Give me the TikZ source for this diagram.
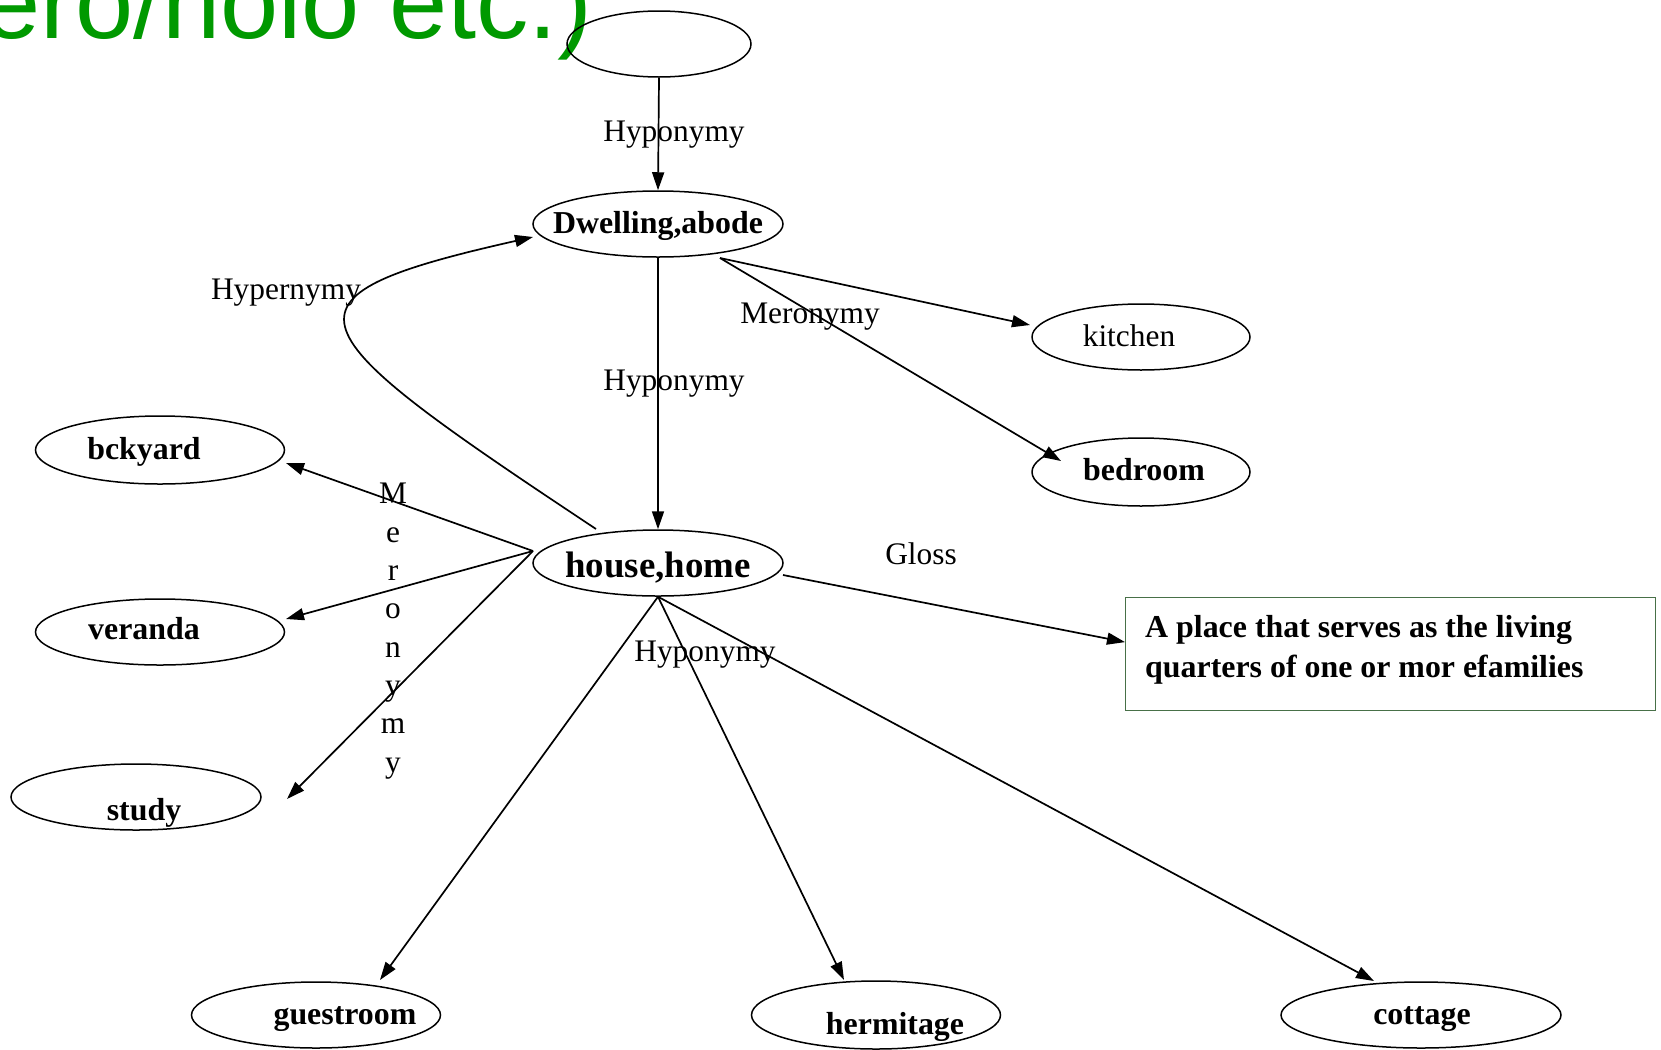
\documentclass[tikz,border=0pt]{standalone}
\usepackage{fontspec}
\setmainfont{Liberation Serif}
\newfontfamily\headfont{Liberation Sans}
\usetikzlibrary{shapes.geometric,arrows.meta,calc}
\definecolor{headgreen}{RGB}{0,153,0}
\definecolor{boxgreen}{RGB}{72,112,72}
\tikzset{
  syn/.style={draw, ellipse, line width=1.5bp, inner sep=0pt},
  rel/.style={line width=1.7bp, -{Triangle[length=18bp,width=12bp]}},
  lbl/.style={inner sep=0pt, font=\fontsize{31.5}{38.5}\selectfont},
  word/.style={inner sep=0pt, font=\fontsize{32}{39}\selectfont\bfseries},
}

\begin{document}
\begin{tikzpicture}[x=1bp,y=-1bp]
\useasboundingbox (0,0) rectangle (1661,1049);

% heading, cut off at the top
\begin{scope}
\clip (0,0) rectangle (1661,1049);
\node [anchor=base west, inner sep=0pt, text=headgreen, font=\fontsize{105}{120}\selectfont\headfont] (head) at (-18,38) {ero/holo etc.)};
\end{scope}

% synsets
\node [syn, minimum width=184bp, minimum height=66bp] (top) at (659,44) {};
\node [syn, minimum width=250bp, minimum height=66bp, label={[word, shift={(0,2)}]center:{Dwelling,abode}}] (dwell) at (658,224) {};
\node [syn, minimum width=218bp, minimum height=66bp, label={[lbl, shift={(-12,-1)}]center:kitchen}] (kitchen) at (1141,337) {};
\node [syn, minimum width=218bp, minimum height=68bp, label={[word, shift={(3,-2)}]center:bedroom}] (bedroom) at (1141,472) {};
\node [syn, minimum width=250bp, minimum height=66bp, label={[word, font=\fontsize{37}{44}\selectfont\bfseries, shift={(0,5)}]center:{house,home}}] (house) at (658,563) {};
\node [syn, minimum width=249bp, minimum height=68bp, label={[word, shift={(-16,2)}]center:bckyard}] (bckyard) at (160,450) {};
\node [syn, minimum width=249bp, minimum height=66bp, label={[word, shift={(-16,-3)}]center:veranda}] (veranda) at (160,632) {};
\node [syn, minimum width=250bp, minimum height=66bp, label={[word, shift={(8,16)}]center:study}] (study) at (136,797) {};
\node [syn, minimum width=249bp, minimum height=66bp, label={[word, shift={(29,4)}]center:guestroom}] (guestroom) at (316,1015) {};
\node [syn, minimum width=249bp, minimum height=68bp, label={[word, shift={(19,12)}]center:hermitage}] (hermitage) at (876,1015) {};
\node [syn, minimum width=280bp, minimum height=66bp, label={[word, shift={(1,4)}]center:cottage}] (cottage) at (1421,1015) {};

% gloss
\node [draw=boxgreen, line width=1.2bp, anchor=north west, minimum width=530bp, minimum height=113bp,
  label={[word, font=\fontsize{32}{40}\selectfont\bfseries, align=left, anchor=west, shift={(20,-4)}]west:{A place that serves as the living\\quarters of one or mor efamilies}}] (gloss) at (1125,597) {};

% relations
\draw [rel] (top.south) -- (dwell.north);
\draw [rel] (dwell.south) -- (house.north);
\draw [rel] ($(dwell)+(62,34)$) -- ($(kitchen)+(-111,-12)$);
\draw [rel] ($(dwell)+(62,34)$) -- ($(bedroom)+(-80,-11)$);
\draw [rel] ($(house)+(-62,-34)$) .. controls (290,326) and (262,298) .. ($(dwell)+(-125,13)$);
\draw [rel] ($(house)+(-125,-12)$) -- ($(bckyard)+(126,13)$);
\draw [rel] ($(house)+(-125,-12)$) -- ($(veranda)+(126,-13)$);
\draw [rel] ($(house)+(-125,-12)$) -- ($(study)+(151,2)$);
\draw [rel] ($(house)+(125,12)$) -- ($(gloss.west)+(0,-12)$);
\draw [rel] (house.south) -- ($(guestroom)+(64,-35)$);
\draw [rel] (house.south) -- ($(hermitage)+(-32,-35)$);
\draw [rel] (house.south) -- ($(cottage)+(-47,-34)$);

% relation names
\node [lbl] (hypo1) at (674,135) {Hyponymy};
\node [lbl] (hypo2) at (674,384) {Hyponymy};
\node [lbl] (hypo3) at (705,655) {Hyponymy};
\node [lbl] (mero1) at (810,317) {Meronymy};
\node [lbl] (hyper) at (286,293) {Hypernymy};
\node [lbl] (glossname) at (921,554) {Gloss};
\node [lbl, anchor=north, align=center] (mero2) at (393,483) {M\\e\\r\\o\\n\\y\\m\\y};
\end{tikzpicture}
\end{document}
